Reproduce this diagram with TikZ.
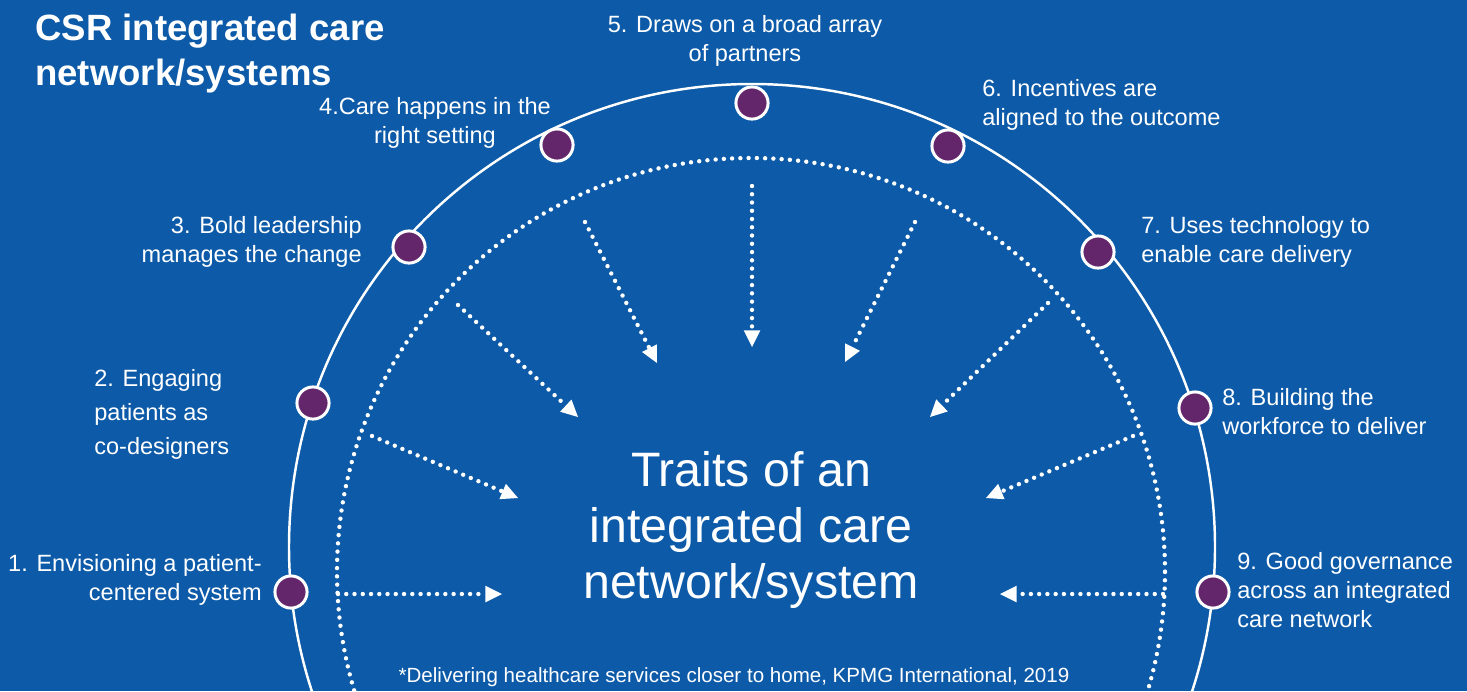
\documentclass[tikz,border=0pt]{standalone}
\usepackage{fontspec}
\setmainfont{Liberation Sans}
\usetikzlibrary{arrows.meta, positioning}
\definecolor{csrblue}{RGB}{12,90,168}
\definecolor{csrpurple}{RGB}{99,38,107}
\tikzset{
    trait/.style={circle, draw=white, line width=1.7pt, fill=csrpurple, minimum size=18.3pt, inner sep=0pt},
    lbl/.style={text=white, inner sep=0pt, font=\fontsize{13.4}{16.5}\selectfont},
    dots/.style={draw=white, line width=2.5pt, line cap=round, dash pattern=on 0pt off 4.7pt},
    flow/.style={dots, -{Triangle[length=9.5pt, width=9.5pt, line width=0pt]}},
}

\begin{document}
\begin{tikzpicture}[x=0.02cm, y=-0.02cm]
            \useasboundingbox (0,0) rectangle (1467,691);
            \fill[csrblue] (0,0) rectangle (1467,691);
            \clip (0,0) rectangle (1467,691);

            \draw[white, line width=1.4pt] (752,547) circle[radius=463];
            \draw[dots] (751,572) circle[radius=414];

            \node[trait] (d1) at (291, 592) {};
            \node[trait] (d2) at (313, 403) {};
            \node[trait] (d3) at (409, 247) {};
            \node[trait] (d4) at (557, 145) {};
            \node[trait] (d5) at (752, 103) {};
            \node[trait] (d6) at (948, 146) {};
            \node[trait] (d7) at (1098, 252) {};
            \node[trait] (d8) at (1195, 408) {};
            \node[trait] (d9) at (1213, 592) {};

            \node[lbl, anchor=west, align=left, font=\bfseries\fontsize{20.8}{25.6}\selectfont] (title) at (35, 54) {CSR integrated care\\network/systems};
            \node[lbl, anchor=east, align=right] (l1) at (262, 580) {1. Envisioning a patient-\\centered system};
            \node[lbl, anchor=west, align=left, font=\fontsize{13.4}{19.3}\selectfont] (l2) at (94, 414) {2. Engaging\\patients as\\co-designers};
            \node[lbl, anchor=east, align=right] (l3) at (362, 242) {3. Bold leadership\\manages the change};
            \node[lbl, align=center] (l4) at (435, 123) {4.Care happens in the\\right setting};
            \node[lbl, align=center] (l5) at (745, 41) {5. Draws on a broad array\\of partners};
            \node[lbl, anchor=west, align=left] (l6) at (982, 105) {6. Incentives are\\aligned to the outcome};
            \node[lbl, anchor=west, align=left] (l7) at (1141, 242) {7. Uses technology to\\enable care delivery};
            \node[lbl, anchor=west, align=left] (l8) at (1222, 412) {8. Building the\\workforce to deliver};
            \node[lbl, anchor=west, align=left] (l9) at (1237, 590) {9. Good governance\\across an integrated\\care network};

            \node[lbl, align=center, font=\fontsize{27.5}{31.9}\selectfont] (traits) at (751, 530) {Traits of an\\integrated care\\network/system};
            \node[lbl, font=\fontsize{11.7}{14}\selectfont] (source) at (734, 677) {*Delivering healthcare services closer to home, KPMG International, 2019};

            \coordinate (s1) at (338, 594);
            \coordinate (t1) at (502, 594);
            \coordinate (s2) at (372, 436);
            \coordinate (t2) at (518, 498);
            \coordinate (s3) at (458, 305);
            \coordinate (t3) at (578, 417);
            \coordinate (s4) at (585, 222);
            \coordinate (t4) at (657, 363);
            \coordinate (s5) at (752, 186);
            \coordinate (t5) at (752, 347);
            \coordinate (s6) at (915, 222);
            \coordinate (t6) at (845, 362);
            \coordinate (s7) at (1048, 303);
            \coordinate (t7) at (930, 417);
            \coordinate (s8) at (1133, 436);
            \coordinate (t8) at (986, 498);
            \coordinate (s9) at (1163, 594);
            \coordinate (t9) at (1000, 594);

            \draw[flow] (s1) -- (t1);
            \draw[flow] (s2) -- (t2);
            \draw[flow] (s3) -- (t3);
            \draw[flow] (s4) -- (t4);
            \draw[flow] (s5) -- (t5);
            \draw[flow] (s6) -- (t6);
            \draw[flow] (s7) -- (t7);
            \draw[flow] (s8) -- (t8);
            \draw[flow] (s9) -- (t9);
        \end{tikzpicture}
\end{document}
